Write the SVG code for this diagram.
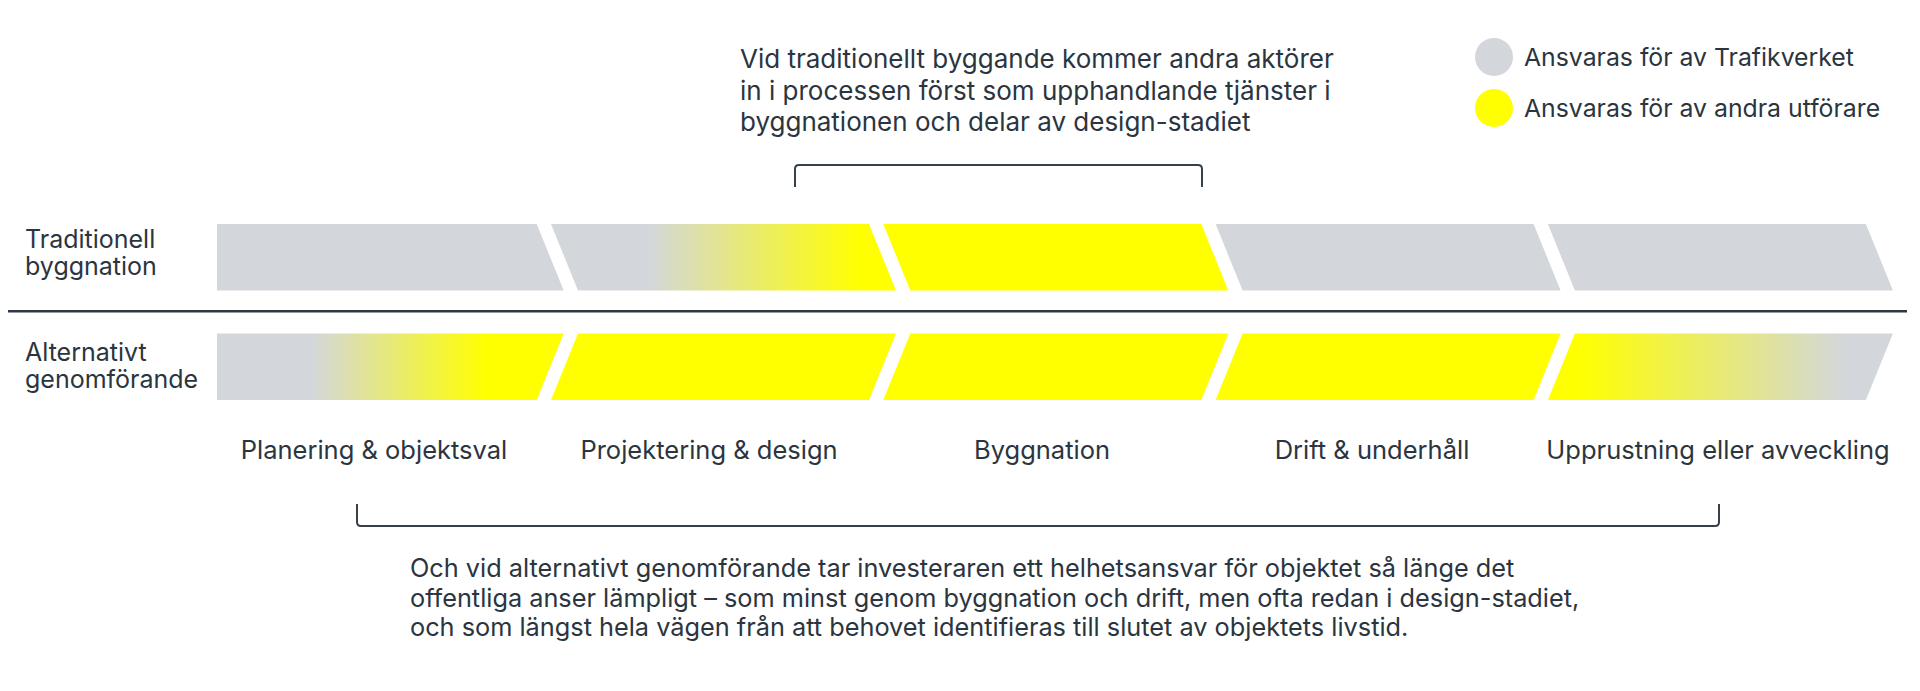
<svg xmlns="http://www.w3.org/2000/svg" width="1920" height="691" viewBox="0 0 1920 691">
  <style>
    .t { font-family: Inter, "Noto Sans", "Liberation Sans", sans-serif; font-size: 25px; fill: #2b3540; }
    .big { font-size: 26px; }
    .lab { font-size: 25.5px; }
    .para { font-size: 25.3px; }
    .leg { font-size: 24.8px; }
    .mid { text-anchor: middle; }
    .gray { fill: #d3d7db; }
    .yel { fill: #ffff00; }
    .br { fill: none; stroke: #36404b; stroke-width: 2; }
  </style>
  <defs>
    <linearGradient id="gTop2" gradientUnits="userSpaceOnUse" x1="648" y1="0" x2="860" y2="0">
      <stop offset="0" stop-color="#d3d7db"/>
      <stop offset="1" stop-color="#ffff00"/>
    </linearGradient>
    <linearGradient id="gBot1" gradientUnits="userSpaceOnUse" x1="312" y1="0" x2="487" y2="0">
      <stop offset="0" stop-color="#d3d7db"/>
      <stop offset="1" stop-color="#ffff00"/>
    </linearGradient>
    <linearGradient id="gBot5" gradientUnits="userSpaceOnUse" x1="1578" y1="0" x2="1845" y2="0">
      <stop offset="0" stop-color="#ffff00"/>
      <stop offset="1" stop-color="#d3d7db"/>
    </linearGradient>
  </defs>
  <rect width="1920" height="691" fill="#ffffff"/>

  <g id="note-top">
    <text class="t big" x="740" y="68">Vid traditionellt byggande kommer andra aktörer</text>
    <text class="t big" x="740" y="99.5">in i processen först som upphandlande tjänster i</text>
    <text class="t big" x="740" y="131">byggnationen och delar av design-stadiet</text>
  </g>

  <g id="legend">
    <circle class="gray" cx="1494" cy="57" r="19"/>
    <text class="t leg" x="1524" y="66">Ansvaras för av Trafikverket</text>
    <circle class="yel" cx="1494" cy="108" r="19"/>
    <text class="t leg" x="1524" y="117">Ansvaras för av andra utförare</text>
  </g>

  <g id="row-labels">
    <text class="t" x="25" y="248">Traditionell</text>
    <text class="t" x="25" y="275">byggnation</text>
    <text class="t" x="25" y="361">Alternativt</text>
    <text class="t" x="25" y="388">genomförande</text>
  </g>

  <g id="row-traditional">
    <polygon class="gray" points="217,224 536.7,224 563.7,290.5 217,290.5"/>
    <polygon fill="url(#gTop2)" points="551,224 869,224 896,290.5 578,290.5"/>
    <polygon class="yel" points="883.3,224 1201.3,224 1228.3,290.5 910.3,290.5"/>
    <polygon class="gray" points="1215.6,224 1533.6,224 1560.6,290.5 1242.6,290.5"/>
    <polygon class="gray" points="1547.9,224 1865.9,224 1892.9,290.5 1574.9,290.5"/>
  </g>

  <line x1="8" y1="311.2" x2="1907" y2="311.2" stroke="#2f3945" stroke-width="2.6"/>

  <g id="row-alternative">
    <polygon fill="url(#gBot1)" points="217,333.5 563.7,333.5 536.7,400 217,400"/>
    <polygon class="yel" points="578,333.5 896,333.5 869,400 551,400"/>
    <polygon class="yel" points="910.3,333.5 1228.3,333.5 1201.3,400 883.3,400"/>
    <polygon class="yel" points="1242.6,333.5 1560.6,333.5 1533.6,400 1215.6,400"/>
    <polygon fill="url(#gBot5)" points="1574.9,333.5 1892.9,333.5 1865.9,400 1547.9,400"/>
  </g>

  <g id="stage-labels">
    <text class="t lab mid" x="374" y="459">Planering &amp; objektsval</text>
    <text class="t lab mid" x="709" y="459">Projektering &amp; design</text>
    <text class="t lab mid" x="1042" y="459">Byggnation</text>
    <text class="t lab mid" x="1372" y="459">Drift &amp; underhåll</text>
    <text class="t lab mid" x="1718" y="459">Upprustning eller avveckling</text>
  </g>

  <g id="connectors">
    <path class="br" d="M795,187 V169 Q795,165 799,165 H1198 Q1202,165 1202,169 V187"/>
    <path class="br" d="M357,504 V522 Q357,526 361,526 H1715 Q1719,526 1719,522 V504"/>
  </g>

  <g id="note-bottom">
    <text class="t para" x="410" y="577">Och vid alternativt genomförande tar investeraren ett helhetsansvar för objektet så länge det</text>
    <text class="t para" x="410" y="606.5">offentliga anser lämpligt – som minst genom byggnation och drift, men ofta redan i design-stadiet,</text>
    <text class="t para" x="410" y="636">och som längst hela vägen från att behovet identifieras till slutet av objektets livstid.</text>
  </g>
</svg>
